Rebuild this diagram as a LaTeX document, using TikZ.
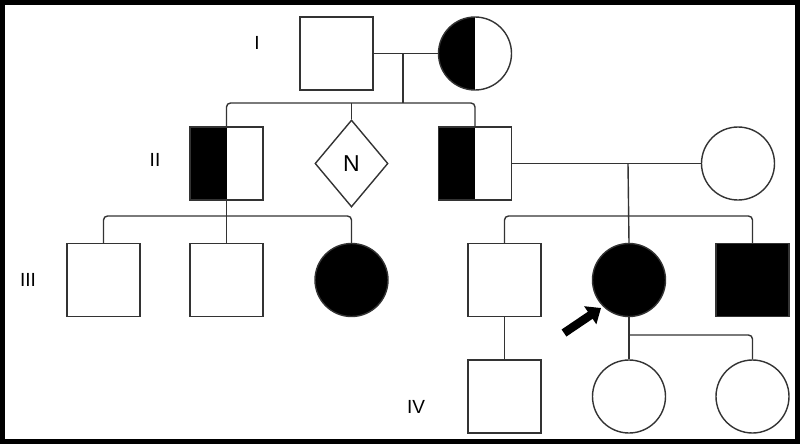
\documentclass[tikz,border=0pt]{standalone}
\usepackage{fontspec}
\setmainfont{Liberation Sans}
\usetikzlibrary{shapes.geometric,arrows.meta}
\begin{document}
\begin{tikzpicture}[x=1pt,y=-1pt,
  lw/.style={line width=1.4pt, draw=black!80},
  male/.style={lw, rectangle, minimum size=73pt, inner sep=0pt, fill=white},
  female/.style={lw, circle, minimum size=73pt, inner sep=0pt, fill=white},
  halfleft/.style={path picture={\fill[black] (path picture bounding box.south west) rectangle (path picture bounding box.north);}},
  affected/.style={fill=black},
  unknown/.style={lw, diamond, minimum width=73pt, minimum height=87pt, inner sep=0pt, font=\fontsize{23}{26}\selectfont},
  rel/.style={lw, rounded corners=4pt},
  gen/.style={font=\fontsize{19}{22}\selectfont},
  proband/.style={line width=8.5pt, -{Triangle[length=13pt,width=21pt]}}
]
\useasboundingbox (0,0) rectangle (800,445);
\draw[line width=5pt] (2.5,2.5) rectangle (797.5,441.5);

% generation labels
\node[gen] (gI) at (257,43) {I};
\node[gen] (gII) at (155,160) {II};
\node[gen] (gIII) at (28,280) {III};
\node[gen] (gIV) at (416,407) {IV};

% generation I
\node[male] (I1) at (336.5,53.5) {};
\node[female, halfleft] (I2) at (475,53.5) {};

% generation II
\node[male, halfleft] (II1) at (226.5,163.5) {};
\node[unknown] (II2) at (351.5,163.5) {N};
\node[male, halfleft] (II3) at (475,163.5) {};
\node[female] (II4) at (738,163.5) {};

% generation III
\node[male] (III1) at (103.5,280) {};
\node[male] (III2) at (226.5,280) {};
\node[female, affected] (III3) at (351.5,280) {};
\node[male] (III4) at (504.5,280) {};
\node[female, affected] (III5) at (629,280) {};
\node[male, affected] (III6) at (752.5,280) {};

% generation IV
\node[male] (IV1) at (504.5,396.5) {};
\node[female] (IV2) at (629,396.5) {};
\node[female] (IV3) at (752.5,396.5) {};

% couple I
\coordinate (mI) at (403,53.5);
\coordinate (sI) at (403,103);
\draw[lw] (I1.east) -- (I2.west);
\draw[lw] (mI) -- (sI);
\draw[rel] (II1.north) -- (II1.north |- sI) -- (II3.north |- sI) -- (II3.north);
\draw[lw] (II2.north) -- (II2.north |- sI);

% II1 children
\coordinate (sIIa) at (226.5,216);
\draw[lw] (II1.south) -- (III2.north);
\draw[rel] (III1.north) -- (III1.north |- sIIa) -- (III3.north |- sIIa) -- (III3.north);

% couple II3-II4
\coordinate (mII) at (628,163.5);
\coordinate (sIIb) at (628,216);
\draw[lw] (II3.east) -- (II4.west);
\draw[lw] (mII) -- (III5.north);
\draw[rel] (III4.north) -- (III4.north |- sIIb) -- (III6.north |- sIIb) -- (III6.north);

% generation IV lines
\coordinate (sIII) at (629,335);
\draw[lw] (III4.south) -- (IV1.north);
\draw[lw] (III5.south) -- (IV2.north);
\draw[rel] (sIII) -- (IV3.north |- sIII) -- (IV3.north);

% proband arrow
\coordinate (pa) at (564,333);
\coordinate (pb) at (601,308);
\draw[proband] (pa) -- (pb);
\end{tikzpicture}
\end{document}
